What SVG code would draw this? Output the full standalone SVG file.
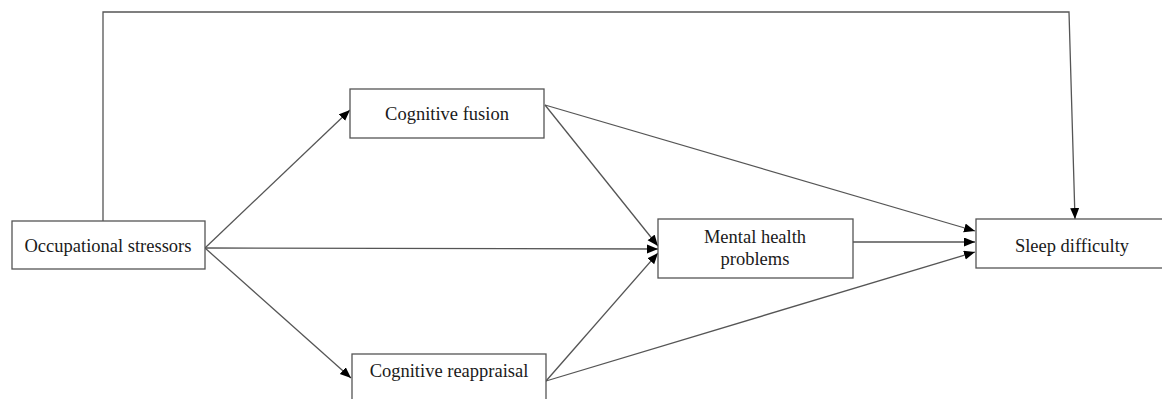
<svg xmlns="http://www.w3.org/2000/svg" width="1162" height="399" viewBox="0 0 1162 399">
<style>
.box{fill:#fff;stroke:#555;stroke-width:1.3}
.lbl{font-family:"Liberation Serif","Times New Roman",serif;font-size:18.5px;fill:#1a1a1a;text-anchor:middle}
.edge{fill:none;stroke:#555;stroke-width:1.3}
</style>
<defs>
<marker id="arr" markerUnits="userSpaceOnUse" markerWidth="12" markerHeight="10" refX="11" refY="4.5" orient="auto">
<path d="M0,0 L11,4.5 L0,9 z" fill="#000"/>
</marker>
</defs>
<rect width="1162" height="399" fill="#fff"/>
<g id="connectors">
<path class="edge" d="M103,221 L103,12 L1069,12 L1075,219" marker-end="url(#arr)"/>
<path class="edge" d="M205,248 L350,110" marker-end="url(#arr)"/>
<path class="edge" d="M205,248 L658,249" marker-end="url(#arr)"/>
<path class="edge" d="M205,248 L351,378" marker-end="url(#arr)"/>
<path class="edge" d="M545,105 L658,246" marker-end="url(#arr)"/>
<path class="edge" d="M545,105 L975,231" marker-end="url(#arr)"/>
<path class="edge" d="M853,242 L975,242" marker-end="url(#arr)"/>
<path class="edge" d="M546,381 L658,253" marker-end="url(#arr)"/>
<path class="edge" d="M546,381 L975,252" marker-end="url(#arr)"/>
</g>
<g id="occupational-stressors">
<rect class="box" x="12" y="221" width="193" height="48"/>
<text class="lbl" x="108" y="252">Occupational stressors</text>
</g>
<g id="cognitive-fusion">
<rect class="box" x="350" y="89" width="194" height="49"/>
<text class="lbl" x="447" y="120">Cognitive fusion</text>
</g>
<g id="cognitive-reappraisal">
<rect class="box" x="352" y="354" width="194" height="60"/>
<text class="lbl" x="449" y="377">Cognitive reappraisal</text>
</g>
<g id="mental-health-problems">
<rect class="box" x="658" y="219" width="195" height="59"/>
<text class="lbl" x="755" y="243">Mental health</text>
<text class="lbl" x="755" y="265">problems</text>
</g>
<g id="sleep-difficulty">
<rect class="box" x="976" y="219" width="200" height="49"/>
<text class="lbl" x="1072" y="252">Sleep difficulty</text>
</g>
</svg>
